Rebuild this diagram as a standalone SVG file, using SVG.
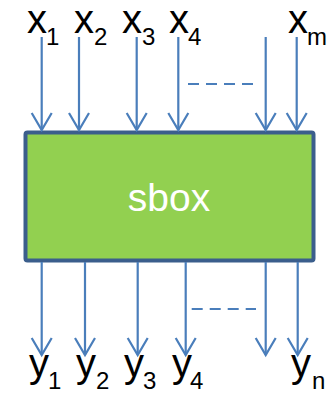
<svg xmlns="http://www.w3.org/2000/svg" width="336" height="395" viewBox="0 0 336 395">
<style>
.lbl{font-family:"Liberation Sans",Arial,sans-serif;font-size:40px;fill:#000}
.sub{font-family:"Liberation Sans",Arial,sans-serif;font-size:24px;fill:#000}
.arr{stroke:#4a7ebb;stroke-width:2.2;fill:none;marker-end:url(#ah)}
.dash{stroke:#4a7ebb;stroke-width:2.2;fill:none;stroke-dasharray:11 7}
</style>
<defs>
<marker id="ah" markerUnits="userSpaceOnUse" orient="auto" refX="0" refY="0" markerWidth="20" markerHeight="22" overflow="visible">
<path d="M-17,-10 L0,0 L-17,10" fill="none" stroke="#4a7ebb" stroke-width="2.2"/>
</marker>
</defs>
<g id="sbox">
<rect x="25.5" y="132.5" width="288" height="128" rx="2" fill="#92d050" stroke="#3b5e8c" stroke-width="4"/>
<text x="169" y="211" text-anchor="middle" style="font-family:'Liberation Sans',Arial,sans-serif;font-size:39px;fill:#fff">sbox</text>
</g>
<g id="inputs">
<g id="x1"><text class="lbl" x="27" y="33">x</text><text class="sub" x="46" y="45">1</text></g>
<g id="x2"><text class="lbl" x="74" y="33">x</text><text class="sub" x="94" y="45">2</text></g>
<g id="x3"><text class="lbl" x="122" y="33">x</text><text class="sub" x="142" y="45">3</text></g>
<g id="x4"><text class="lbl" x="169" y="33">x</text><text class="sub" x="188" y="45">4</text></g>
<g id="xm"><text class="lbl" x="288" y="33">x</text><text class="sub" x="307" y="45">m</text></g>
</g>
<g id="outputs">
<g id="y1"><text class="lbl" x="29" y="377">y</text><text class="sub" x="48" y="389">1</text></g>
<g id="y2"><text class="lbl" x="76" y="377">y</text><text class="sub" x="96" y="389">2</text></g>
<g id="y3"><text class="lbl" x="124" y="377">y</text><text class="sub" x="143" y="389">3</text></g>
<g id="y4"><text class="lbl" x="172" y="377">y</text><text class="sub" x="190" y="389">4</text></g>
<g id="yn"><text class="lbl" x="291" y="377">y</text><text class="sub" x="312" y="389">n</text></g>
</g>
<g id="connectors">
<line class="arr" x1="41.7" y1="37" x2="41.7" y2="130"/>
<line class="arr" x1="79" y1="37" x2="79" y2="130"/>
<line class="arr" x1="136.7" y1="37" x2="136.7" y2="130"/>
<line class="arr" x1="178.3" y1="37" x2="178.3" y2="130"/>
<line class="arr" x1="265.7" y1="37" x2="265.7" y2="130"/>
<line class="arr" x1="296.7" y1="37" x2="296.7" y2="130"/>
<line class="dash" x1="188" y1="84" x2="253" y2="84"/>
<line class="arr" x1="41.7" y1="262" x2="41.7" y2="355"/>
<line class="arr" x1="85" y1="262" x2="85" y2="355"/>
<line class="arr" x1="137.7" y1="262" x2="137.7" y2="355"/>
<line class="arr" x1="185.7" y1="262" x2="185.7" y2="355"/>
<line class="arr" x1="265.7" y1="262" x2="265.7" y2="355"/>
<line class="arr" x1="297.7" y1="262" x2="297.7" y2="355"/>
<line class="dash" x1="191.7" y1="309" x2="256" y2="309"/>
</g>
</svg>
